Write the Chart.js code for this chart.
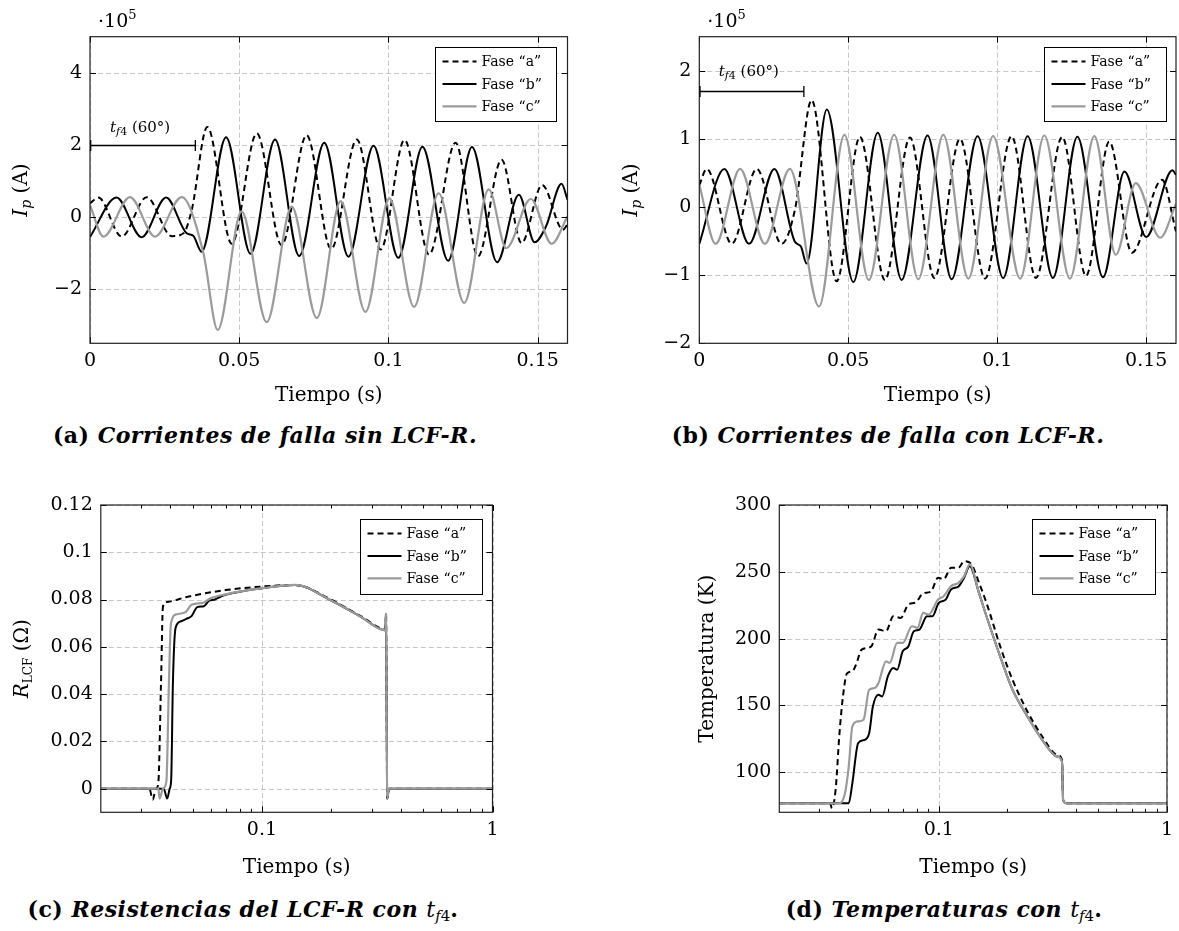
<!DOCTYPE html>
<html lang="es">
<head>
<meta charset="utf-8">
<title>Corrientes de falla, resistencias y temperaturas del LCF-R</title>
<script src="https://cdn.jsdelivr.net/npm/chart.js@4.4.1/dist/chart.umd.min.js"></script>
<style>
  html, body { margin: 0; padding: 0; background: #fff; }
  body { width: 1179px; height: 931px; position: relative; overflow: hidden; }
  canvas { position: absolute; }
  .cap {
    position: absolute; width: 640px; text-align: center; white-space: nowrap;
    font-family: "DejaVu Serif", serif; font-size: 22px; font-weight: bold; line-height: 24px;
    letter-spacing: 0.5px; color: #000;
  }
  .cap em { font-style: italic; }
  .cap .m { font-weight: normal; font-style: italic; letter-spacing: 0; }
  .cap sub { font-size: 15px; line-height: 0; vertical-align: -4px; }
  .cap sub span { font-style: normal; }
</style>
</head>
<body>
<canvas id="chartA" width="590" height="420" style="left:0;top:0"></canvas>
<canvas id="chartB" width="589" height="420" style="left:590px;top:0"></canvas>
<canvas id="chartC" width="590" height="410" style="left:0;top:480px"></canvas>
<canvas id="chartD" width="589" height="410" style="left:590px;top:480px"></canvas>

<div class="cap" style="left:-55px;top:423px">(a) <em>Corrientes de falla sin LCF-R.</em></div>
<div class="cap" style="left:568px;top:423px">(b) <em>Corrientes de falla con LCF-R.</em></div>
<div class="cap" style="left:-77px;top:897px">(c) <em>Resistencias del LCF-R con </em><span class="m">t<sub>f<span>4</span></sub></span>.</div>
<div class="cap" style="left:624px;top:897px">(d) <em>Temperaturas con </em><span class="m">t<sub>f<span>4</span></sub></span>.</div>

<script>
// ---- data ----
const faseLabels = ["Fase \u201ca\u201d", "Fase \u201cb\u201d", "Fase \u201cc\u201d"];

const linTicks = [0, 0.05, 0.1, 0.15];
const linTickLabels = ["0", "0.05", "0.1", "0.15"];
const logTicks = [0.1, 1];
const logTickLabels = ["0.1", "1"];
const logMinor = [0.03, 0.04, 0.05, 0.06, 0.07, 0.08, 0.09, 0.2, 0.3, 0.4, 0.5, 0.6, 0.7, 0.8, 0.9];

const yTicksA = [-2, 0, 2, 4];
const yLabelsA = ["\u22122", "0", "2", "4"];
const yTicksB = [-2, -1, 0, 1, 2];
const yLabelsB = ["\u22122", "\u22121", "0", "1", "2"];
const yTicksC = [0, 0.02, 0.04, 0.06, 0.08, 0.1, 0.12];
const yLabelsC = ["0", "0.02", "0.04", "0.06", "0.08", "0.1", "0.12"];
const yTicksD = [100, 150, 200, 250, 300];
const yLabelsD = ["100", "150", "200", "250", "300"];

// (a) corrientes sin LCF-R, tiempo (s) / corriente (x1e5 A)
const tA_a = [0, 0.0028, 0.0106, 0.0190, 0.0274, 0.0313, 0.0341, 0.0393, 0.0475, 0.0559, 0.0642, 0.0726, 0.0808, 0.0894, 0.0974, 0.1054, 0.1136, 0.1225, 0.1300, 0.1379, 0.1446, 0.1515, 0.1585, 0.1600];
const iA_a = [0.38, 0.54, -0.54, 0.55, -0.53, -0.45, 0.20, 2.50, -0.74, 2.32, -0.78, 2.27, -0.89, 2.15, -0.90, 2.14, -1.04, 2.06, -1.09, 1.59, -0.72, 0.89, -0.35, -0.20];
const tA_b = [0, 0.0089, 0.0173, 0.0255, 0.0324, 0.0346, 0.0374, 0.0456, 0.0538, 0.0620, 0.0701, 0.0785, 0.0866, 0.0950, 0.1033, 0.1114, 0.1200, 0.1280, 0.1364, 0.1437, 0.1490, 0.1528, 0.1580, 0.1600];
const iA_b = [-0.55, 0.54, -0.56, 0.54, -0.45, -0.52, -0.96, 2.21, -1.02, 2.15, -1.08, 2.06, -1.10, 1.98, -1.13, 1.95, -1.21, 1.94, -1.25, 0.62, -0.70, -0.26, 0.92, 0.48];
const tA_c = [0, 0.0045, 0.0134, 0.0218, 0.0307, 0.0380, 0.0428, 0.0508, 0.0592, 0.0676, 0.0760, 0.0840, 0.0923, 0.1003, 0.1086, 0.1168, 0.1254, 0.1336, 0.1395, 0.1477, 0.1547, 0.1600];
const iA_c = [0.33, -0.54, 0.55, -0.54, 0.55, -1.00, -3.13, 0.16, -2.91, 0.29, -2.80, 0.44, -2.63, 0.52, -2.49, 0.66, -2.38, 0.77, -0.86, 0.50, -0.74, 0.02];

// (b) corrientes con LCF-R
const tB_a = [0, 0.0025, 0.0109, 0.0193, 0.0276, 0.0321, 0.0377, 0.0461, 0.0539, 0.0623, 0.0707, 0.0789, 0.0875, 0.0959, 0.1048, 0.1130, 0.1218, 0.1298, 0.1376, 0.1452, 0.1553, 0.1600];
const iB_a = [0.32, 0.56, -0.54, 0.56, -0.54, -0.04, 1.57, -1.09, 1.03, -1.07, 1.02, -1.04, 1.00, -1.05, 1.04, -1.04, 1.03, -1.01, 0.96, -0.67, 0.40, -0.36];
const tB_b = [0, 0.0084, 0.0167, 0.0252, 0.0321, 0.0341, 0.0360, 0.0428, 0.0517, 0.0599, 0.0679, 0.0766, 0.0847, 0.0934, 0.1020, 0.1102, 0.1187, 0.1269, 0.1355, 0.1427, 0.1500, 0.1588, 0.1600];
const iB_b = [-0.54, 0.56, -0.54, 0.56, -0.51, -0.58, -0.83, 1.43, -1.10, 1.09, -1.07, 1.05, -1.06, 1.04, -1.04, 1.04, -1.04, 1.03, -1.03, 0.52, -0.44, 0.54, 0.47];
const tB_c = [0, 0.0055, 0.0137, 0.0220, 0.0304, 0.0402, 0.0487, 0.0569, 0.0654, 0.0735, 0.0819, 0.0903, 0.0986, 0.1077, 0.1158, 0.1244, 0.1326, 0.1398, 0.1465, 0.1547, 0.1600];
const iB_c = [0.33, -0.54, 0.56, -0.54, 0.56, -1.46, 1.06, -1.07, 1.06, -1.06, 1.06, -1.05, 1.04, -1.05, 1.05, -1.05, 1.04, -0.70, 0.35, -0.45, 0.05];

// (c) resistencias del LCF-R (ohm)
const tC_a = [0.02, 0.0325, 0.0336, 0.0347, 0.0355, 0.0365, 0.0372, 0.0388, 0.0477, 0.0695, 0.1000, 0.1392, 0.1989, 0.2685, 0.3428, 0.3454, 0.3494, 0.3560, 1];
const rC_a = [0, 0, -0.0046, 0, 0.002, 0.045, 0.077, 0.079, 0.0812, 0.0840, 0.0855, 0.0862, 0.0800, 0.0730, 0.0675, 0.0742, -0.0042, 0, 0];
const tC_b = [0.02, 0.0375, 0.0388, 0.0398, 0.0404, 0.0411, 0.0422, 0.0443, 0.0470, 0.0495, 0.0524, 0.0560, 0.0590, 0.0625, 0.0660, 0.0695, 0.1000, 0.1392, 0.1989, 0.2685, 0.3428, 0.3454, 0.3494, 0.3560, 1];
const rC_b = [0, 0, -0.0042, 0, 0.004, 0.045, 0.068, 0.0707, 0.0718, 0.0730, 0.0768, 0.0772, 0.0795, 0.0800, 0.0812, 0.0820, 0.0848, 0.0862, 0.0797, 0.0727, 0.0670, 0.0740, -0.0040, 0, 0];
const tC_c = [0.02, 0.0355, 0.0360, 0.0372, 0.0385, 0.0395, 0.0403, 0.0427, 0.0468, 0.0495, 0.0555, 0.0598, 0.0695, 0.1000, 0.1392, 0.1989, 0.2685, 0.3428, 0.3454, 0.3494, 0.3560, 1];
const rC_c = [0, 0, -0.0042, 0, 0.003, 0.045, 0.070, 0.0738, 0.0748, 0.0778, 0.0786, 0.0805, 0.0822, 0.0848, 0.0862, 0.0797, 0.0727, 0.0670, 0.0740, -0.0040, 0, 0];

// (d) temperaturas (K)
const tD_a = [0.02, 0.0334, 0.0340, 0.0353, 0.0367, 0.0381, 0.0396, 0.0418, 0.0434, 0.0459, 0.0505, 0.0544, 0.0587, 0.0632, 0.0682, 0.0735, 0.0792, 0.0854, 0.0921, 0.0993, 0.1050, 0.1132, 0.1220, 0.1291, 0.1392, 0.1501, 0.1618, 0.1879, 0.2104, 0.2445, 0.2841, 0.3302, 0.3467, 0.3507, 0.3627, 1];
const kD_a = [76.75, 76.75, 73, 86.75, 129, 158, 174, 175.5, 180.5, 191.75, 194, 206.75, 205.5, 216.75, 215.5, 225.5, 227, 234, 235, 245.5, 244.5, 253, 253, 258, 255.5, 241.75, 226.75, 191.75, 169.25, 145.5, 126.75, 113, 109.25, 79.25, 76.75, 76.75];
const tD_b = [0.02, 0.0403, 0.0418, 0.0443, 0.0468, 0.0495, 0.0514, 0.0544, 0.0565, 0.0598, 0.0632, 0.0657, 0.0695, 0.0735, 0.0777, 0.0823, 0.0887, 0.0938, 0.1000, 0.1070, 0.1132, 0.1220, 0.1291, 0.1366, 0.1501, 0.1618, 0.1879, 0.2104, 0.2445, 0.2841, 0.3302, 0.3467, 0.3507, 0.3627, 1];
const kD_b = [76.75, 76.75, 91.75, 121.75, 124, 129, 149, 158, 156.75, 171.75, 178, 176.75, 190.5, 194, 205.5, 206.75, 216.75, 216.75, 226.75, 229, 236.75, 239, 245.5, 254.25, 234, 216.75, 184.25, 161.75, 141.75, 124.25, 111.75, 108, 79.25, 76.75, 76.75];
const tD_c = [0.02, 0.0367, 0.0388, 0.0403, 0.0418, 0.0443, 0.0468, 0.0495, 0.0524, 0.0544, 0.0587, 0.0609, 0.0657, 0.0695, 0.0763, 0.0807, 0.0854, 0.0904, 0.0993, 0.1050, 0.1132, 0.1220, 0.1291, 0.1366, 0.1501, 0.1618, 0.1879, 0.2104, 0.2445, 0.2841, 0.3302, 0.3467, 0.3507, 0.3627, 1];
const kD_c = [76.75, 76.75, 84.25, 104.25, 134.25, 138, 139.25, 161.75, 163, 166.75, 183, 181.75, 196.75, 196.75, 209.25, 208, 219.25, 218, 229.25, 231.75, 239.25, 241.75, 246.75, 255.5, 234, 216.75, 184.25, 161.75, 141.75, 124.25, 111.75, 108, 79.25, 76.75, 76.75];

// t_f4 marker: span and label position, in data units
const bracketA = { from: 0, to: 0.0353, at: 2.0, labelX: 0.0168, labelY: 2.5 };
const bracketB = { from: 0, to: 0.0351, at: 1.71, labelX: 0.0166, labelY: 2.0 };

// ---- drawing ----
const FAM = '"DejaVu Serif", serif';
const fnt = (size, style) => (style ? style + " " : "") + size + "px " + FAM;
Chart.defaults.font.family = FAM;
Chart.defaults.color = "#000";

const lineStyles = [
  { borderColor: "#000000", borderWidth: 2, borderDash: [6, 4], order: 3 },
  { borderColor: "#000000", borderWidth: 2, borderDash: [], order: 2 },
  { borderColor: "#9b9b9b", borderWidth: 2.2, borderDash: [], order: 1 }
];

const zip = (xs, ys) => xs.map((x, i) => ({ x: x, y: ys[i] }));

function richText(ctx, parts, x, y, align, rot) {
  ctx.save();
  ctx.translate(x, y);
  if (rot) ctx.rotate(rot);
  ctx.textBaseline = "alphabetic";
  ctx.textAlign = "left";
  ctx.fillStyle = "#000";
  let w = 0;
  parts.forEach(p => { ctx.font = p.f; w += ctx.measureText(p.t).width; });
  let cx = align === "center" ? -w / 2 : 0;
  parts.forEach(p => {
    ctx.font = p.f;
    ctx.fillText(p.t, cx, p.dy || 0);
    cx += ctx.measureText(p.t).width;
  });
  ctx.restore();
}

const tf4Label = [
  { t: "t", f: fnt(15, "italic") },
  { t: "f", f: fnt(11, "italic"), dy: 3 },
  { t: "4", f: fnt(11), dy: 3 },
  { t: " (60\u00b0)", f: fnt(15) }
];

const pgfPlugin = {
  id: "pgf",
  beforeDatasetsDraw(chart, args, o) {
    const { ctx, chartArea: a, scales: { x, y } } = chart;
    ctx.save();
    ctx.strokeStyle = "#c6c6c6";
    ctx.lineWidth = 1;
    ctx.setLineDash([5, 3]);
    ctx.beginPath();
    o.xGrid.forEach(v => {
      const p = Math.round(x.getPixelForValue(v)) + 0.5;
      ctx.moveTo(p, a.top); ctx.lineTo(p, a.bottom);
    });
    o.yGrid.forEach(v => {
      const p = Math.round(y.getPixelForValue(v)) + 0.5;
      ctx.moveTo(a.left, p); ctx.lineTo(a.right, p);
    });
    ctx.stroke();
    ctx.restore();
  },
  afterDatasetsDraw(chart, args, o) {
    const { ctx, chartArea: a, scales: { x, y } } = chart;
    ctx.save();

    // tick marks pointing inwards on every side
    ctx.strokeStyle = "#000";
    ctx.lineWidth = 1;
    ctx.beginPath();
    const tickX = (v, len) => {
      const p = Math.round(x.getPixelForValue(v)) + 0.5;
      ctx.moveTo(p, a.bottom); ctx.lineTo(p, a.bottom - len);
      ctx.moveTo(p, a.top); ctx.lineTo(p, a.top + len);
    };
    const tickY = (v, len) => {
      const p = Math.round(y.getPixelForValue(v)) + 0.5;
      ctx.moveTo(a.left, p); ctx.lineTo(a.left + len, p);
      ctx.moveTo(a.right, p); ctx.lineTo(a.right - len, p);
    };
    o.xGrid.forEach(v => tickX(v, 6));
    (o.xMinor || []).forEach(v => tickX(v, 3.5));
    o.yGrid.forEach(v => tickY(v, 6));
    ctx.stroke();

    // frame
    ctx.strokeStyle = "#222";
    ctx.lineWidth = 1.2;
    ctx.strokeRect(a.left, a.top, a.right - a.left, a.bottom - a.top);

    // t_f4 bracket
    const b = o.bracket;
    if (b) {
      const x0 = x.getPixelForValue(b.from), x1 = x.getPixelForValue(b.to);
      const yy = Math.round(y.getPixelForValue(b.at)) + 0.5;
      ctx.strokeStyle = "#000";
      ctx.lineWidth = 1.3;
      ctx.beginPath();
      ctx.moveTo(x0, yy); ctx.lineTo(x1, yy);
      ctx.moveTo(x0 + 0.7, yy - 5.5); ctx.lineTo(x0 + 0.7, yy + 5.5);
      ctx.moveTo(x1, yy - 5.5); ctx.lineTo(x1, yy + 5.5);
      ctx.stroke();
      richText(ctx, tf4Label, x.getPixelForValue(b.labelX), y.getPixelForValue(b.labelY) + 5, "center");
    }

    // axis multiplier
    if (o.exponent) {
      richText(ctx, [
        { t: "\u00b710", f: fnt(19) },
        { t: "5", f: fnt(13), dy: -8 }
      ], a.left + 8, a.top - 10, "left");
    }

    // y axis title
    richText(ctx, o.yTitle, a.left - o.yTitleOffset + 7, (a.top + a.bottom) / 2, "center", -Math.PI / 2);

    // legend box, top right inside the axes
    const L = o.legend;
    const bx = Math.round(a.right - L.right - L.w) + 0.5;
    const by = Math.round(a.top + L.top) + 0.5;
    ctx.fillStyle = "#fff";
    ctx.fillRect(bx, by, L.w, L.h);
    ctx.strokeStyle = "#000";
    ctx.lineWidth = 1;
    ctx.strokeRect(bx, by, L.w, L.h);
    chart.data.datasets.forEach((ds, i) => {
      const cy = by + 14 + i * 22.4;
      ctx.strokeStyle = ds.borderColor;
      ctx.lineWidth = ds.borderWidth;
      ctx.setLineDash(ds.borderDash);
      ctx.beginPath();
      ctx.moveTo(bx + 7, cy); ctx.lineTo(bx + 41, cy);
      ctx.stroke();
      ctx.setLineDash([]);
      ctx.fillStyle = "#000";
      ctx.font = fnt(14);
      ctx.textBaseline = "middle";
      ctx.textAlign = "left";
      ctx.fillText(ds.label, bx + 46, cy + 1);
    });
    ctx.restore();
  }
};
Chart.register(pgfPlugin);

function makeChart(id, cfg) {
  const canvas = document.getElementById(id);
  const box = cfg.box;
  return new Chart(canvas, {
    type: "line",
    data: {
      datasets: cfg.series.map((s, i) => Object.assign({
        label: faseLabels[i],
        data: zip(s[0], s[1]),
        pointRadius: 0,
        fill: false,
        cubicInterpolationMode: "monotone",
        borderCapStyle: "butt",
        borderJoinStyle: "round"
      }, lineStyles[i]))
    },
    options: {
      responsive: false,
      animation: false,
      events: [],
      layout: { padding: { left: 0, top: box.top, right: canvas.width - box.right, bottom: 0 } },
      plugins: {
        legend: { display: false },
        tooltip: { enabled: false },
        pgf: {
          xGrid: cfg.xTicks,
          xMinor: cfg.xMinor,
          yGrid: cfg.yTicks,
          bracket: cfg.bracket,
          exponent: cfg.exponent,
          yTitle: cfg.yTitle,
          yTitleOffset: cfg.yTitleOffset,
          legend: cfg.legend
        }
      },
      scales: {
        x: {
          type: cfg.xType,
          min: cfg.xMin,
          max: cfg.xMax,
          grid: { display: false, drawTicks: false },
          border: { display: false },
          afterBuildTicks: s => { s.ticks = cfg.xTicks.map(v => ({ value: v })); },
          afterFit: s => { s.height = canvas.height - box.bottom; },
          ticks: {
            autoSkip: false, maxRotation: 0, padding: 6,
            font: { size: 19 },
            callback: (v, i) => cfg.xLabels[i]
          },
          title: {
            display: true, text: "Tiempo (s)",
            font: { size: 20 },
            padding: { top: 0, bottom: cfg.xTitlePad }
          }
        },
        y: {
          type: "linear",
          min: cfg.yMin,
          max: cfg.yMax,
          grid: { display: false, drawTicks: false },
          border: { display: false },
          afterBuildTicks: s => { s.ticks = cfg.yTicks.map(v => ({ value: v })); },
          afterFit: s => { s.width = box.left; },
          ticks: {
            autoSkip: false, padding: 8,
            font: { size: 19 },
            callback: (v, i) => cfg.yLabels[i]
          }
        }
      }
    }
  });
}

const ipTitle = [
  { t: "I", f: fnt(20, "italic") },
  { t: "p", f: fnt(14, "italic"), dy: 4 },
  { t: " (A)", f: fnt(20) }
];

makeChart("chartA", {
  series: [[tA_a, iA_a], [tA_b, iA_b], [tA_c, iA_c]],
  box: { left: 90, top: 36.7, right: 567.5, bottom: 343.3 },
  xType: "linear", xMin: 0, xMax: 0.16, xTicks: linTicks, xLabels: linTickLabels,
  yMin: -3.5, yMax: 5, yTicks: yTicksA, yLabels: yLabelsA,
  xTitlePad: 12,
  yTitle: ipTitle, yTitleOffset: 70,
  exponent: true, bracket: bracketA,
  legend: { right: 11.5, top: 10, w: 121, h: 74 }
});

makeChart("chartB", {
  series: [[tB_a, iB_a], [tB_b, iB_b], [tB_c, iB_c]],
  box: { left: 109.3, top: 36.7, right: 586, bottom: 343.3 },
  xType: "linear", xMin: 0, xMax: 0.16, xTicks: linTicks, xLabels: linTickLabels,
  yMin: -2, yMax: 2.5, yTicks: yTicksB, yLabels: yLabelsB,
  xTitlePad: 12,
  yTitle: ipTitle, yTitleOffset: 69,
  exponent: true, bracket: bracketB,
  legend: { right: 10, top: 10, w: 122, h: 74 }
});

makeChart("chartC", {
  series: [[tC_a, rC_a], [tC_b, rC_b], [tC_c, rC_c]],
  box: { left: 100.8, top: 25, right: 492.5, bottom: 332.3 },
  xType: "logarithmic", xMin: 0.02, xMax: 1, xTicks: logTicks, xLabels: logTickLabels, xMinor: logMinor,
  yMin: -0.01, yMax: 0.12, yTicks: yTicksC, yLabels: yLabelsC,
  xTitlePad: 10,
  yTitle: [
    { t: "R", f: fnt(20, "italic") },
    { t: "LCF", f: fnt(12), dy: 4 },
    { t: " (\u03a9)", f: fnt(20) }
  ],
  yTitleOffset: 80,
  legend: { right: 11, top: 14, w: 122, h: 75 }
});

makeChart("chartD", {
  series: [[tD_a, kD_a], [tD_b, kD_b], [tD_c, kD_c]],
  box: { left: 189.3, top: 25, right: 580.8, bottom: 332.3 },
  xType: "logarithmic", xMin: 0.02, xMax: 1, xTicks: logTicks, xLabels: logTickLabels, xMinor: logMinor,
  yMin: 70, yMax: 300, yTicks: yTicksD, yLabels: yLabelsD,
  xTitlePad: 10,
  yTitle: [{ t: "Temperatura (K)", f: fnt(20) }],
  yTitleOffset: 73,
  legend: { right: 12, top: 14, w: 123, h: 75 }
});
</script>
</body>
</html>
